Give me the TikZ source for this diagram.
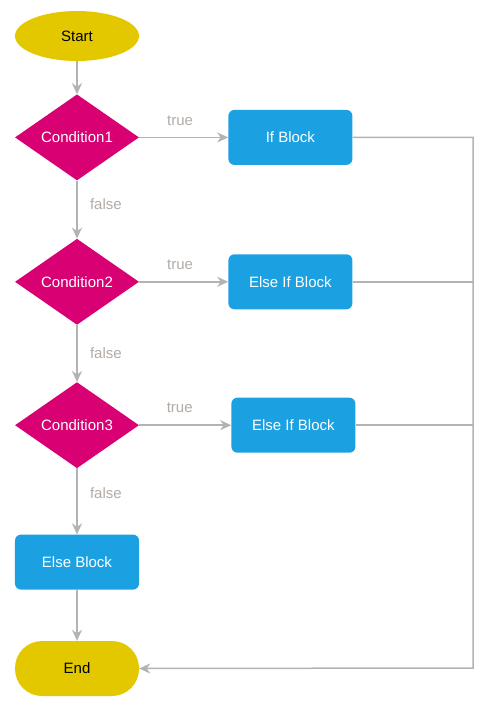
\documentclass[tikz,border=0pt]{standalone}
\usepackage{fontspec}
\setmainfont{Liberation Sans}
\usetikzlibrary{positioning,shapes.geometric,arrows.meta}
\definecolor{termcol}{HTML}{E3C800}
\definecolor{condcol}{HTML}{D80073}
\definecolor{blockcol}{HTML}{1BA1E2}
\definecolor{linecol}{HTML}{B3B3B3}
\definecolor{lblcol}{HTML}{B3ABA5}
\tikzset{
  every node/.style={font=\fontsize{15bp}{17bp}\selectfont},
  terminal/.style={ellipse, fill=termcol, text=black, minimum width=124bp, minimum height=50bp, inner sep=0pt},
  stadium/.style={rectangle, rounded corners=27bp, fill=termcol, text=black, minimum width=124bp, minimum height=55bp, inner sep=0pt},
  cond/.style={diamond, aspect=1.44, fill=condcol, text=white, minimum width=124bp, minimum height=86bp, inner sep=0pt},
  block/.style={rectangle, rounded corners=6bp, fill=blockcol, text=white, minimum width=124bp, minimum height=55bp, inner sep=0pt},
  flow/.style={draw=linecol, line width=1.5bp, -{Stealth[length=11bp, width=10bp, inset=3.5bp]}},
  rail/.style={draw=linecol, line width=1.5bp},
  lbl/.style={text=lblcol},
}
\begin{document}
\begin{tikzpicture}[x=1bp, y=-1bp]
  \useasboundingbox (0,0) rectangle (493,706);

  \node[terminal] (start) at (77,36) {Start};
  \node[cond, below=33bp of start] (cond1) {Condition1};
  \node[block, right=89bp of cond1] (ifb) {If Block};
  \node[cond, below=58bp of cond1] (cond2) {Condition2};
  \node[block, right=89bp of cond2] (elif1) {Else If Block};
  \node[cond, below=57bp of cond2] (cond3) {Condition3};
  \node[block, right=92bp of cond3] (elif2) {Else If Block};
  \node[block, below=66bp of cond3] (elseb) {Else Block};
  \node[stadium, below=51bp of elseb] (endn) {End};
  \coordinate (railend) at (473,668);

  \draw[flow] (start) -- (cond1);
  \draw[flow] (cond1) -- node[lbl, above=8bp, pos=0.46] {true} (ifb);
  \draw[flow] (cond1) -- node[lbl, right=9bp, pos=0.4] {false} (cond2);
  \draw[flow] (cond2) -- node[lbl, above=8bp, pos=0.46] {true} (elif1);
  \draw[flow] (cond2) -- node[lbl, right=9bp, pos=0.5] {false} (cond3);
  \draw[flow] (cond3) -- node[lbl, above=8bp, pos=0.44] {true} (elif2);
  \draw[flow] (cond3) -- node[lbl, right=9bp, pos=0.38] {false} (elseb);
  \draw[flow] (elseb) -- (endn);

  % branches join on the right
  \draw[flow] (ifb.east) -| (railend) -- (endn.east);
  \draw[rail] (elif1.east) -- (elif1.east -| railend);
  \draw[rail] (elif2.east) -- (elif2.east -| railend);
\end{tikzpicture}
\end{document}
